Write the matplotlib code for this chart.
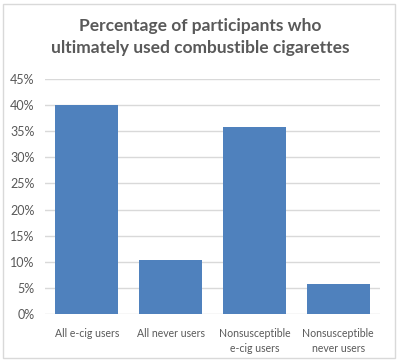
import matplotlib
matplotlib.use("Agg")
import matplotlib.pyplot as plt
from matplotlib.patches import Rectangle
from matplotlib.ticker import FuncFormatter

categories = ["All e-cig users", "All never users", "Nonsusceptible\ne-cig users", "Nonsusceptible\nnever users"]
percent_used = [40.0, 10.4, 35.9, 5.8]
y_ticks = [0, 5, 10, 15, 20, 25, 30, 35, 40, 45]

TEXT = "#595959"
BAR = "#4F81BD"
GRID = "#D9D9D9"

plt.rcParams["font.family"] = ["Lato", "DejaVu Sans"]

fig = plt.figure(figsize=(4.0, 3.64), dpi=100)
ax = fig.add_axes([45 / 400, 1 - 314 / 364, 335 / 400, 235 / 364])

x = range(len(categories))
ax.bar(x, percent_used, width=0.75, color=BAR, zorder=3)
ax.set_xlim(-0.5, len(categories) - 0.5)
ax.set_ylim(0, 45)
ax.set_yticks(y_ticks)
ax.yaxis.set_major_formatter(FuncFormatter(lambda v, _: f"{v:.0f}%"))
ax.grid(axis="y", color=GRID, linewidth=1.0, zorder=0)
ax.set_xticks(list(x))
ax.set_xticklabels(categories, fontsize=7.6, color=TEXT, linespacing=1.45)
ax.tick_params(axis="y", labelsize=9, colors=TEXT, length=0, pad=7.5)
ax.tick_params(axis="x", length=0, pad=10)
for s in ax.spines.values():
    s.set_visible(False)

fig.text(0.5, 1 - 37 / 364, "Percentage of participants who\nultimately used combustible cigarettes",
         ha="center", va="center", fontsize=12.5, fontweight="bold", color=TEXT, linespacing=1.45)

fig.patches.append(Rectangle((3 / 400, 6 / 364), 392 / 400, 354 / 364, transform=fig.transFigure,
                             fill=False, edgecolor="#D9D9D9", linewidth=1.0))

fig.savefig("out.png", dpi=100)
